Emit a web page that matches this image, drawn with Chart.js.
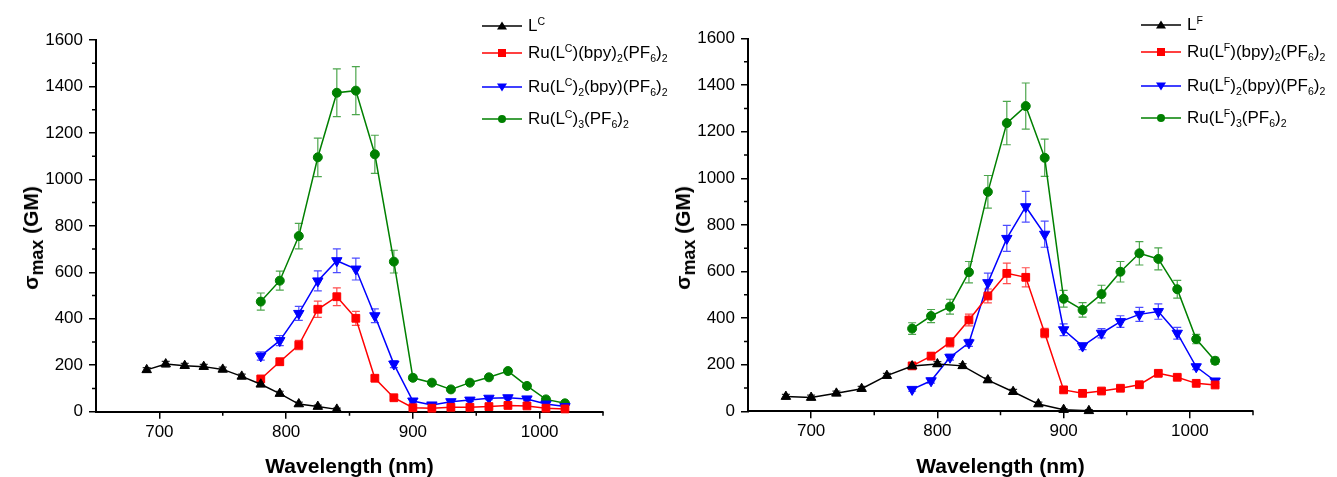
<!DOCTYPE html>
<html>
<head>
<meta charset="utf-8">
<script src="https://cdn.jsdelivr.net/npm/chart.js@4.4.0/dist/chart.umd.min.js"></script>
<style>
body { margin: 0; background: #fff; font-family: Arial, "Liberation Sans", sans-serif; }
#wrap { position: relative; width: 1337px; height: 477px; overflow: hidden; }
canvas { position: absolute; top: 0; }
.legend { position: absolute; font-size: 17px; color: #000; }
.legend .row { position: absolute; left: 0; white-space: nowrap; display: flex; align-items: center; height: 20px; transform: translateY(-50%); }
.legend svg { margin-right: 6px; }
sub, sup { font-size: 0.62em; line-height: 0; position: relative; vertical-align: baseline; }
sub { top: 0.35em; }
sup { top: -0.6em; }
.ytitle { position: absolute; font-weight: bold; font-size: 21px; white-space: nowrap; transform: translate(-50%, -50%) rotate(-90deg); }
.ytitle sub { font-size: 0.85em; top: 0.3em; }
.xtitle { position: absolute; font-weight: bold; font-size: 21px; white-space: nowrap; transform: translate(-50%, -50%); }
</style>
</head>
<body>
<div id="wrap">
  <canvas id="chartC" width="668" height="477" style="left:0"></canvas>
  <canvas id="chartF" width="669" height="477" style="left:668px"></canvas>
</div>
<script>
// axes
const xTicks = [700, 800, 900, 1000];
const xMinor = [750, 850, 950, 1050];
const yTicks = [0, 200, 400, 600, 800, 1000, 1200, 1400, 1600];
const yMinor = [100, 300, 500, 700, 900, 1100, 1300, 1500];

// longueurs d'onde
const wlLigC = [690, 705, 720, 735, 750, 765, 780, 795, 810, 825, 840];
const wlLigF = [680, 700, 720, 740, 760, 780, 800, 820, 840, 860, 880, 900, 920];
const wlRu = [780, 795, 810, 825, 840, 855, 870, 885, 900, 915, 930, 945, 960, 975, 990, 1005, 1020];

// série C (graphique gauche)
const ligC = [180, 205, 198, 194, 182, 152, 118, 78, 33, 22, 10];
const ligCErr = [10, 12, 10, 10, 10, 10, 10, 10, 8, 6, 5];
const ru1C = [141, 215, 287, 441, 495, 402, 144, 60, 17, 15, 19, 19, 22, 27, 25, 15, 12];
const ru1CErr = [12, 15, 20, 35, 38, 30, 12, 8, 5, 5, 5, 5, 5, 5, 5, 5, 5];
const ru2C = [240, 306, 423, 563, 650, 614, 413, 205, 46, 29, 43, 50, 58, 60, 55, 33, 22];
const ru2CErr = [18, 22, 30, 43, 51, 47, 30, 15, 8, 6, 6, 6, 6, 6, 6, 5, 5];
const ru3C = [474, 564, 756, 1095, 1373, 1382, 1108, 646, 146, 125, 96, 125, 148, 175, 111, 53, 36];
const ru3CErr = [37, 41, 55, 83, 103, 103, 82, 49, 10, 8, 8, 8, 8, 8, 8, 6, 5];

// série F (graphique droite)
const ligF = [63, 59, 77, 97, 153, 194, 203, 195, 134, 84, 31, 7, 2];
const ligFErr = [10, 10, 10, 10, 10, 10, 10, 10, 10, 10, 8, 5, 5];
const ru1F = [195, 237, 296, 392, 495, 592, 575, 336, 92, 77, 87, 99, 114, 163, 146, 120, 113];
const ru1FErr = [12, 15, 20, 25, 30, 44, 41, 20, 8, 6, 6, 6, 6, 10, 8, 6, 6];
const ru2F = [94, 131, 232, 294, 552, 742, 878, 760, 350, 280, 335, 385, 416, 428, 335, 191, 130];
const ru2FErr = [8, 10, 12, 15, 41, 56, 66, 56, 25, 15, 20, 25, 30, 33, 25, 12, 10];
const ru3F = [355, 409, 449, 597, 942, 1237, 1310, 1088, 483, 435, 503, 599, 678, 654, 524, 310, 217];
const ru3FErr = [25, 28, 32, 46, 70, 93, 99, 80, 36, 31, 38, 44, 50, 47, 38, 20, 15];

const labelsC = ['L<sup>C</sup>', 'Ru(L<sup>C</sup>)(bpy)<sub>2</sub>(PF<sub>6</sub>)<sub>2</sub>',
  'Ru(L<sup>C</sup>)<sub>2</sub>(bpy)(PF<sub>6</sub>)<sub>2</sub>', 'Ru(L<sup>C</sup>)<sub>3</sub>(PF<sub>6</sub>)<sub>2</sub>'];
const labelsF = ['L<sup>F</sup>', 'Ru(L<sup>F</sup>)(bpy)<sub>2</sub>(PF<sub>6</sub>)<sub>2</sub>',
  'Ru(L<sup>F</sup>)<sub>2</sub>(bpy)(PF<sub>6</sub>)<sub>2</sub>', 'Ru(L<sup>F</sup>)<sub>3</sub>(PF<sub>6</sub>)<sub>2</sub>'];
const couleurs = ['#000000', '#ff0000', '#0000ff', '#008000'];
const errCouleurs = ['rgba(0,0,0,0.8)', 'rgba(255,0,0,0.7)', 'rgba(0,0,255,0.7)', 'rgba(0,128,0,0.7)'];
const marqueurs = ['triangle', 'rect', 'triangle', 'circle'];
const rotations = [0, 0, 180, 0];
const rayons = [5.5, 5.5, 6, 4.5];

const xTitle = 'Wavelength (nm)';
const yTitle = '\u03c3<sub>max</sub> (GM)';

// barres d'erreur dessinées avec les échelles du graphique
const errorBars = {
  id: 'errorBars',
  beforeDatasetsDraw(chart) {
    const ctx = chart.ctx, sx = chart.scales.x, sy = chart.scales.y;
    chart.data.datasets.forEach(ds => {
      if (!ds.errors) return;
      ctx.save();
      ctx.strokeStyle = ds.errColor;
      ctx.lineWidth = 1.2;
      ds.data.forEach((p, i) => {
        const px = sx.getPixelForValue(p.x);
        const y1 = sy.getPixelForValue(p.y + ds.errors[i]);
        const y2 = sy.getPixelForValue(p.y - ds.errors[i]);
        ctx.beginPath();
        ctx.moveTo(px, y1); ctx.lineTo(px, y2);
        ctx.moveTo(px - 4, y1); ctx.lineTo(px + 4, y1);
        ctx.moveTo(px - 4, y2); ctx.lineTo(px + 4, y2);
        ctx.stroke();
      });
      ctx.restore();
    });
  }
};

// petites graduations
const minorTicks = {
  id: 'minorTicks',
  afterDraw(chart) {
    const ctx = chart.ctx, sx = chart.scales.x, sy = chart.scales.y;
    ctx.save();
    ctx.strokeStyle = '#000';
    ctx.lineWidth = 1.5;
    ctx.beginPath();
    xMinor.forEach(v => {
      const px = sx.getPixelForValue(v);
      ctx.moveTo(px, sx.top); ctx.lineTo(px, sx.top + 4);
    });
    yMinor.forEach(v => {
      const py = sy.getPixelForValue(v);
      ctx.moveTo(sy.right, py); ctx.lineTo(sy.right - 4, py);
    });
    ctx.stroke();
    ctx.restore();
  }
};

function serie(wl, vals, errs, k) {
  return {
    data: wl.map((w, i) => ({ x: w, y: vals[i] })),
    errors: errs,
    errColor: errCouleurs[k],
    borderColor: couleurs[k],
    backgroundColor: couleurs[k],
    borderWidth: 1.5,
    pointStyle: marqueurs[k],
    rotation: rotations[k],
    pointRadius: rayons[k],
    pointBorderWidth: 1,
    pointBorderColor: couleurs[k],
    pointBackgroundColor: couleurs[k],
    clip: false,
    tension: 0
  };
}

function creerGraphique(id, datasets, g, canvasW, canvasLeft, labels) {
  const tickFont = { family: 'Arial, "Liberation Sans"', size: 17 };
  new Chart(document.getElementById(id), {
    type: 'line',
    data: { datasets },
    options: {
      responsive: false,
      animation: false,
      devicePixelRatio: 1,
      layout: { padding: { left: 0, top: g.top, right: canvasW - g.right, bottom: 0 } },
      plugins: { legend: { display: false }, tooltip: { enabled: false } },
      scales: {
        x: {
          type: 'linear', min: 650, max: 1050,
          afterBuildTicks: s => { s.ticks = xTicks.map(v => ({ value: v })); },
          afterFit: s => { s.height = 477 - g.bottom; },
          grid: { drawOnChartArea: false, drawTicks: true, tickLength: 7, color: '#000', lineWidth: 1.5 },
          border: { display: true, color: '#000', width: 2 },
          ticks: { color: '#000', font: tickFont, padding: 3, maxRotation: 0, autoSkip: false, callback: v => String(v) }
        },
        y: {
          type: 'linear', min: 0, max: 1600,
          afterBuildTicks: s => { s.ticks = yTicks.map(v => ({ value: v })); },
          afterFit: s => { s.width = g.left; },
          grid: { drawOnChartArea: false, drawTicks: true, tickLength: 7, color: '#000', lineWidth: 1.5 },
          border: { display: true, color: '#000', width: 2 },
          ticks: { color: '#000', font: tickFont, padding: 6, callback: v => String(v) }
        }
      }
    },
    plugins: [errorBars, minorTicks]
  });

  // titres et légende en HTML (indices / exposants)
  const wrap = document.getElementById('wrap');
  const xt = document.createElement('div');
  xt.className = 'xtitle';
  xt.textContent = xTitle;
  xt.style.left = (canvasLeft + (g.left + g.right) / 2) + 'px';
  xt.style.top = g.xTitleY + 'px';
  wrap.appendChild(xt);

  const yt = document.createElement('div');
  yt.className = 'ytitle';
  yt.innerHTML = yTitle;
  yt.style.left = (canvasLeft + g.yTitleX) + 'px';
  yt.style.top = g.yTitleY + 'px';
  wrap.appendChild(yt);

  const leg = document.createElement('div');
  leg.className = 'legend';
  leg.style.left = (canvasLeft + g.legX) + 'px';
  leg.style.top = '0px';
  labels.forEach((lab, k) => {
    const row = document.createElement('div');
    row.className = 'row';
    row.style.top = g.legRows[k] + 'px';
    const c = couleurs[k];
    let m;
    if (k === 0) m = `<polygon points="20,1.5 25,9.5 15,9.5" fill="${c}"/>`;
    else if (k === 1) m = `<rect x="16" y="2" width="8" height="8" fill="${c}"/>`;
    else if (k === 2) m = `<polygon points="15,2.5 25,2.5 20,10.5" fill="${c}"/>`;
    else m = `<circle cx="20" cy="6" r="4" fill="${c}"/>`;
    row.innerHTML = `<svg width="40" height="12"><line x1="0" y1="6" x2="40" y2="6" stroke="${c}" stroke-width="1.5"/>${m}</svg><span>${lab}</span>`;
    leg.appendChild(row);
  });
  wrap.appendChild(leg);
}

creerGraphique('chartC', [
  serie(wlLigC, ligC, ligCErr, 0),
  serie(wlRu, ru1C, ru1CErr, 1),
  serie(wlRu, ru2C, ru2CErr, 2),
  serie(wlRu, ru3C, ru3CErr, 3)
], { left: 96, right: 603, top: 40, bottom: 411.7, xTitleY: 466, yTitleX: 31, yTitleY: 238, legX: 482, legRows: [26, 53, 87, 119] }, 668, 0, labelsC);

creerGraphique('chartF', [
  serie(wlLigF, ligF, ligFErr, 0),
  serie(wlRu, ru1F, ru1FErr, 1),
  serie(wlRu, ru2F, ru2FErr, 2),
  serie(wlRu, ru3F, ru3FErr, 3)
], { left: 80, right: 585, top: 38.5, bottom: 411.3, xTitleY: 466, yTitleX: 15, yTitleY: 238, legX: 473, legRows: [25, 52, 86, 118] }, 669, 668, labelsF);
</script>
</body>
</html>
